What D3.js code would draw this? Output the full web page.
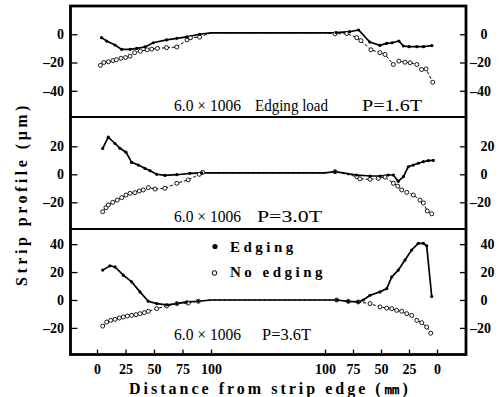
<!DOCTYPE html>
<html><head><meta charset="utf-8">
<script src="https://cdn.jsdelivr.net/npm/d3@7/dist/d3.min.js"></script>
<style>
html,body{margin:0;padding:0;background:#fff;}
svg{display:block;}
text{font-family:"Liberation Serif","DejaVu Serif",serif;fill:#000;}
</style></head>
<body><svg id="c" width="502" height="397"></svg>
<script>
// ---- data: [distance from edge (mm), profile (µm)] ----
const p1EdgingLeft = [[4,-2.4],[8.5,-4.8],[15.8,-7.6],[21.6,-10.7],[29,-10.7],[34.8,-10],[42,-9],[49.4,-6],[61,-4],[70,-2.9],[78.7,-1.9],[90,0],[100,1]];
const p1EdgingRight = [[100,1],[90,1.2],[78,1.8],[70,3],[60,-5.5],[51,-7.9],[45,-6.5],[40,-6],[34,-4.8],[30,-8.3],[25,-8.8],[18,-8.8],[12,-8.8],[4.5,-8]];
const p1NoEdgingLeft = [[3,-22],[6,-20],[10,-19.5],[14,-18.6],[17,-18],[21,-17],[25,-16.5],[29,-15.5],[33,-13],[38,-12],[44,-11],[48,-10.5],[53,-10],[61,-9.5],[70,-9],[79,-4],[82,-2.5],[90,-2],[100,1]];
const p1NoEdgingRight = [[100,1],[91,0.3],[80.6,0.5],[71.6,-2.4],[68,-4.5],[59,-11],[51,-13],[46.4,-14.3],[39,-21.4],[34,-19],[28.6,-19.8],[24,-20.2],[18,-21.4],[13.7,-25],[9.8,-24.5],[3.8,-34]];

const p2EdgingLeft = [[5,18.5],[9.9,26.5],[15.8,22],[20.2,18.6],[25.4,15.8],[30.4,8.5],[36.2,6.6],[42,4.3],[46.5,2.6],[52.4,0],[59.6,-0.8],[70,-0.3],[81.6,0.7],[91.8,1],[100,1]];
const p2EdgingRight = [[100,1],[91,1.9],[71.7,-0.5],[59.8,-1.2],[50.9,-1.2],[43.5,-0.5],[39,-0.5],[34.6,-5],[30,-1.7],[25.6,5.4],[21.2,6.6],[16.7,7.9],[12.2,9],[7.8,9.8],[3.3,10]];
const p2NoEdgingLeft = [[5,-26.7],[7.9,-23.8],[9.9,-21.9],[13.8,-20],[17.8,-18.4],[21.7,-16.7],[25.4,-14.8],[29,-13.6],[33.3,-13.1],[37.1,-11.9],[40.6,-11.2],[45,-9.5],[50.9,-10.5],[59.6,-10],[70,-6.4],[80,-4],[89.7,0],[92.7,1.4],[100,1]];
const p2NoEdgingRight = [[100,1],[91,1.9],[71.6,-1.7],[68.8,-3.2],[59.8,-3.6],[52.4,-2.9],[46.4,-2],[39,-6.4],[35,-8.5],[31.5,-11.2],[27,-12.9],[21.2,-14.8],[15.2,-18.4],[12.2,-20.5],[8.7,-26.2],[4.7,-28.2]];

const p3EdgingLeft = [[5,21.4],[11.4,24.5],[15.8,23.7],[23.1,17.8],[30.4,13],[37.7,5.8],[45,-0.9],[52.4,-2.6],[61.1,-3.5],[70,-2.6],[78.7,-1.4],[88.9,-0.9],[100,0]];
const p3EdgingRight = [[100,0],[89.6,0],[79.2,-1],[70.3,-1.4],[65.8,0],[59.8,3.4],[50.9,5.8],[44.9,8.2],[40.4,16.5],[34.6,21.4],[28.6,28.6],[22.6,35.8],[16.7,40.6],[12.2,40.6],[9.2,38.8],[4.7,2.5]];
const p3NoEdgingLeft = [[5,-18.7],[8.5,-15.8],[12,-14.6],[15.8,-13.9],[19.6,-12.9],[23.1,-12.2],[26.6,-11.5],[30.4,-11],[34.2,-10.5],[37.7,-9.8],[41.5,-9.1],[45,-8.1],[52.4,-6.2],[61.1,-4.3],[70,-2.6],[80,-2.2],[88.9,-0.9],[100,0]];
const p3NoEdgingRight = [[100,0],[89.6,0],[79.2,-1],[70.3,-1.4],[59.8,-2.6],[50.9,-5],[44.9,-5.8],[40.4,-6.2],[36,-7.4],[31.5,-8.1],[27,-9.8],[22.6,-11],[18,-14.6],[13.6,-16.3],[9.2,-19.4],[5.6,-23.8]];

const xTicks = [0,25,50,75,100];
const p1Ticks = [0,-20,-40];
const p2Ticks = [20,0,-20];
const p3Ticks = [40,20,0,-20];
const labels = ["6.0 × 1006","Edging load","P=1.6T","P=3.0T","P=3.6T"];
const legendLabels = ["Edging","No edging"];

// ---- layout ----
const L = 70.5, R = 466, T = 6, B = 354.5;
const svg = d3.select("#c");
const xLeft = d3.scaleLinear().domain([0,100]).range([97,211]);
const xRight = d3.scaleLinear().domain([0,100]).range([437,325]);

const panels = [
  {y: d3.scaleLinear().domain([-58.57,20]).range([117,6]), ticks:p1Ticks,
   eL:p1EdgingLeft,eR:p1EdgingRight,nL:p1NoEdgingLeft,nR:p1NoEdgingRight},
  {y: d3.scaleLinear().domain([-39.07,40.93]).range([229,117]), ticks:p2Ticks,
   eL:p2EdgingLeft,eR:p2EdgingRight,nL:p2NoEdgingLeft,nR:p2NoEdgingRight},
  {y: d3.scaleLinear().domain([-39.06,50.86]).range([354.5,229]), ticks:p3Ticks,
   eL:p3EdgingLeft,eR:p3EdgingRight,nL:p3NoEdgingLeft,nR:p3NoEdgingRight}
];

const fmt = v => v < 0 ? "\u2013" + Math.abs(v) : String(v);

panels.forEach(p => {
  const gl = svg.append("g").attr("transform",`translate(${L},0)`)
    .call(d3.axisLeft(p.y).tickValues(p.ticks).tickSize(-7).tickPadding(6.5).tickFormat(fmt));
  gl.select(".domain").remove();
  gl.selectAll(".tick line").attr("stroke","#000").attr("stroke-width",1.3);
  gl.selectAll(".tick text").attr("font-size",14).attr("font-weight","bold")
    .attr("font-family","Liberation Serif");
  const gr = svg.append("g").attr("transform",`translate(${R},0)`)
    .call(d3.axisRight(p.y).tickValues(p.ticks).tickSize(-6).tickFormat(fmt));
  gr.select(".domain").remove();
  gr.selectAll(".tick line").attr("stroke","#000").attr("stroke-width",1.3);
  gr.selectAll(".tick text").attr("font-size",14).attr("font-weight","bold")
    .attr("font-family","Liberation Serif")
    .attr("x", d => d < 0 ? 4 : 14.5);

  const edging = p.eL.map(d => [xLeft(d[0]), p.y(d[1]), d[0]])
    .concat(p.eR.map(d => [xRight(d[0]), p.y(d[1]), d[0]]));
  const noEdging = p.nL.map(d => [xLeft(d[0]), p.y(d[1]), d[0]])
    .concat(p.nR.map(d => [xRight(d[0]), p.y(d[1]), d[0]]));
  const line = d3.line().x(d => d[0]).y(d => d[1]);

  svg.append("path").attr("d", line(noEdging)).attr("fill","none")
    .attr("stroke","#000").attr("stroke-width",1).attr("stroke-dasharray","3,2");
  svg.append("path").attr("d", line(edging)).attr("fill","none")
    .attr("stroke","#000").attr("stroke-width",1.7);
  svg.append("g").selectAll("circle").data(noEdging.filter(d => d[2] < 100)).join("circle")
    .attr("cx", d => d[0]).attr("cy", d => d[1]).attr("r",2)
    .attr("fill","#fff").attr("stroke","#000").attr("stroke-width",0.9);
  svg.append("g").selectAll("circle").data(edging.filter(d => d[2] < 100)).join("circle")
    .attr("cx", d => d[0]).attr("cy", d => d[1]).attr("r",1.6).attr("fill","#000");
});

[xLeft, xRight].forEach(sc => {
  const g = svg.append("g").attr("transform",`translate(0,${B})`)
    .call(d3.axisBottom(sc).tickValues(xTicks).tickSize(-5).tickPadding(10));
  g.select(".domain").remove();
  g.selectAll(".tick line").attr("stroke","#000").attr("stroke-width",1.3);
  g.selectAll(".tick text").attr("font-size",14).attr("font-weight","bold")
    .attr("font-family","Liberation Serif");
});

svg.append("rect").attr("x",L).attr("y",T).attr("width",R-L).attr("height",B-T)
  .attr("fill","none").attr("stroke","#000").attr("stroke-width",2.8);
[117,229].forEach(yy => svg.append("line").attr("x1",L).attr("x2",R).attr("y1",yy).attr("y2",yy)
  .attr("stroke","#000").attr("stroke-width",1.8));

const ann = (txt,x,y,len) => {
  const t = svg.append("text").attr("x",x).attr("y",y).attr("font-size",16).text(txt);
  if (len) t.attr("textLength",len).attr("lengthAdjust","spacingAndGlyphs");
};
ann(labels[0],174,111,67); ann(labels[1],255,111,73); ann(labels[2],362,111,60);
ann(labels[0],174,222,67); ann(labels[3],257,222,65);
ann(labels[0],174,340,67); ann(labels[4],262,340,49);

svg.append("circle").attr("cx",215).attr("cy",246.5).attr("r",2.6).attr("fill","#000");
svg.append("circle").attr("cx",214.5).attr("cy",273).attr("r",2.3).attr("fill","#fff")
  .attr("stroke","#000").attr("stroke-width",1);
svg.append("text").attr("x",230).attr("y",252).attr("font-size",15).attr("font-weight","bold")
  .attr("letter-spacing","3.5px").text(legendLabels[0]);
svg.append("text").attr("x",230).attr("y",277).attr("font-size",15).attr("font-weight","bold")
  .attr("letter-spacing","3.5px").text(legendLabels[1]);

svg.append("text").attr("x",270).attr("y",394).attr("text-anchor","middle")
  .attr("font-size",16).attr("font-weight","bold").attr("letter-spacing","3px")
  .text("Distance from strip edge (㎜)");
svg.append("text").attr("transform","translate(27,194) rotate(-90)").attr("text-anchor","middle")
  .attr("font-size",16).attr("font-weight","bold").attr("letter-spacing","3.5px")
  .text("Strip profile (μm)");
</script></body></html>
